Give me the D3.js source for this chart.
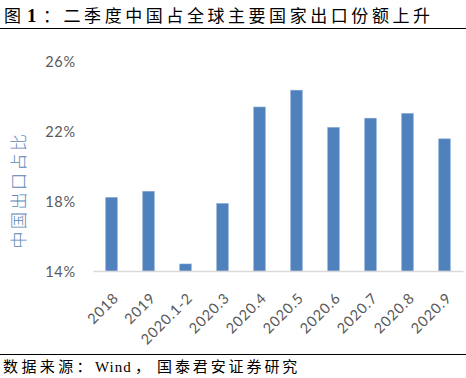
<!DOCTYPE html>
<html>
<head>
<meta charset="utf-8">
<script src="https://cdn.jsdelivr.net/npm/d3@7"></script>
<style>
  body { margin: 0; background: #fff; }
  svg { display: block; }
</style>
</head>
<body>
<svg width="466" height="378"></svg>
<script>
// данные с картинки
const categories = ["2018", "2019", "2020.1-2", "2020.3", "2020.4", "2020.5", "2020.6", "2020.7", "2020.8", "2020.9"];
const shareValues = [18.2, 18.55, 14.4, 17.85, 23.37, 24.33, 22.2, 22.73, 23.0, 21.55];
const yTicks = [14, 18, 22, 26];

const titleParts = ["图", "1", "：二季度中国占全球主要国家出口份额上升"];
const sourceParts = ["数据来源：", "Wind", "，", "国泰君安证券研究"];
const yTitle = "中国出口占比";

const svg = d3.select("svg");

const area = { left: 93, right: 463, top: 61, bottom: 271 };
const cjkFont = "'Liberation Serif', 'Noto Sans CJK SC'";
const tickFont = "Lato";

const scX = d3.scaleBand()
    .domain(categories)
    .range([area.left, area.right])
    .paddingInner(0.69)
    .paddingOuter(0.345);

const scY = d3.scaleLinear()
    .domain([14, 26])
    .range([area.bottom, area.top]);

// заголовок
const title = svg.append("text")
    .attr("y", 22)
    .style("font-family", cjkFont)
    .style("font-size", "17px")
    .style("fill", "#000");
title.append("tspan").attr("x", 4).text(titleParts[0]);
title.append("tspan")
    .attr("x", 27)
    .style("font-weight", "bold")
    .style("font-size", "19px")
    .text(titleParts[1]);
title.append("tspan")
    .attr("x", 43)
    .attr("textLength", 387)
    .attr("lengthAdjust", "spacing")
    .text(titleParts[2]);

svg.append("line")
    .attr("x1", 0).attr("x2", 466)
    .attr("y1", 28.5).attr("y2", 28.5)
    .style("stroke", "#000").style("stroke-width", 1);

svg.append("line")
    .attr("x1", 0).attr("x2", 466)
    .attr("y1", 354.5).attr("y2", 354.5)
    .style("stroke", "#000").style("stroke-width", 1);

// источник
const source = svg.append("text")
    .attr("y", 372)
    .style("font-family", cjkFont)
    .style("font-size", "15px")
    .style("fill", "#000");
source.append("tspan").attr("x", 3).style("letter-spacing", "3.4px").text(sourceParts[0]);
source.append("tspan").attr("x", 95).style("letter-spacing", "1px").text(sourceParts[1]);
source.append("tspan").attr("x", 135).text(sourceParts[2]);
source.append("tspan").attr("x", 157).style("letter-spacing", "2.9px").text(sourceParts[3]);

// ось Y (только подписи)
const axisY = d3.axisLeft(scY)
    .tickValues(yTicks)
    .tickFormat(d => d + "%")
    .tickSize(0)
    .tickPadding(0);

const gY = svg.append("g")
    .attr("transform", "translate(76, 1)")
    .call(axisY);
gY.select(".domain").remove();
gY.selectAll("text")
    .style("font-family", tickFont)
    .style("font-size", "14.5px")
    .style("letter-spacing", "0.8px")
    .style("fill", "#595959");

// подпись оси Y
svg.append("text")
    .attr("transform", "translate(25, 190) rotate(-90)")
    .attr("text-anchor", "middle")
    .style("font-family", "'Noto Sans CJK SC'")
    .style("font-weight", "300")
    .style("font-size", "17px")
    .style("letter-spacing", "2.5px")
    .style("fill", "#5b86b5")
    .text(yTitle);

// столбцы
svg.selectAll(".bar")
    .data(shareValues)
    .enter()
    .append("rect")
    .attr("class", "bar")
    .attr("x", (d, i) => scX(categories[i]))
    .attr("y", d => scY(d))
    .attr("width", scX.bandwidth())
    .attr("height", d => scY(14) - scY(d))
    .style("fill", "#4f81bd")
    .style("stroke", "#7ea2cf")
    .style("stroke-width", 0.6);

// ось X
const axisX = d3.axisBottom(scX).tickSize(0).tickPadding(0);

const gX = svg.append("g")
    .attr("transform", `translate(0, ${area.bottom})`)
    .call(axisX);
gX.select(".domain")
    .style("stroke", "#d9d9d9")
    .style("stroke-width", 1.3);
gX.selectAll("text")
    .style("font-family", tickFont)
    .style("font-size", "14.5px")
    .style("letter-spacing", "0.8px")
    .style("fill", "#595959")
    .style("text-anchor", "end")
    .attr("x", 0)
    .attr("y", 0)
    .attr("dx", 0)
    .attr("dy", 0)
    .attr("transform", "translate(8, 28) rotate(-45)");
</script>
</body>
</html>
